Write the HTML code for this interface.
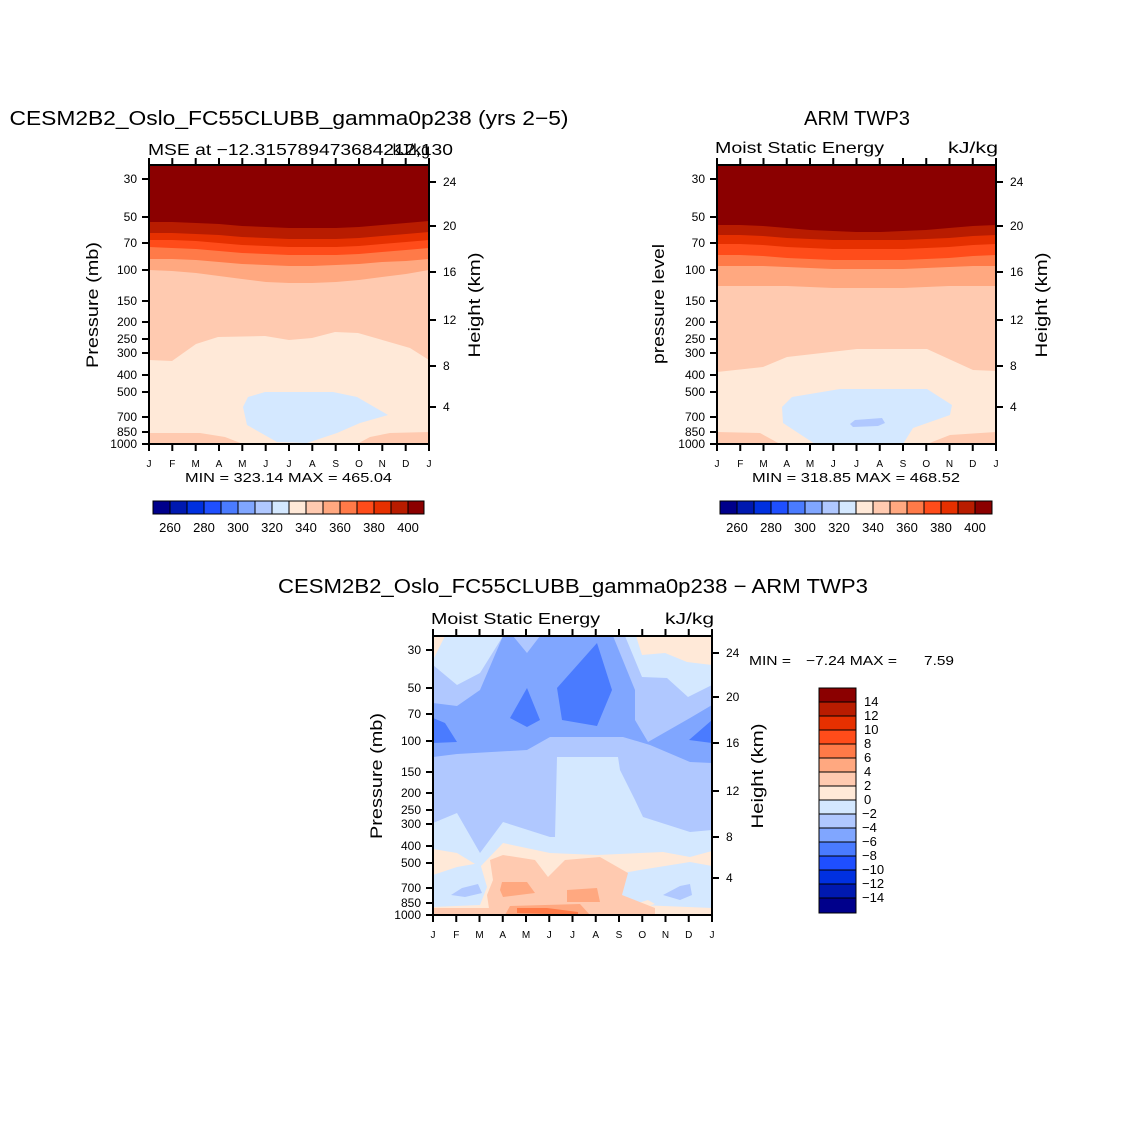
<!DOCTYPE html>
<html><head><meta charset="utf-8"><style>
html,body{margin:0;padding:0;background:#fff;}
svg{display:block;font-family:"Liberation Sans",sans-serif;}
.t{font-size:12px;}
</style></head><body>
<svg width="1146" height="1146" viewBox="0 0 1146 1146" xmlns="http://www.w3.org/2000/svg">
<rect width="1146" height="1146" fill="#fff"/>
<defs>
<clipPath id="c1"><rect x="149" y="165" width="280" height="279"/></clipPath>
<clipPath id="c2"><rect x="717" y="165" width="279" height="279"/></clipPath>
<clipPath id="c3"><rect x="433" y="636" width="279" height="279"/></clipPath>
</defs>

<g clip-path="url(#c1)">
<rect x="149" y="165" width="280" height="279" fill="#ffe9d8"/>
<path fill="#ffcab0" d="M149,165 L429,165 L429,360 L410,348 L358,333 L335,332 L312,338 L289,340 L265,336 L218,337 L196,344 L172,361 L149,360Z"/>
<path fill="#ffa880" d="M149,165 L429,165 L429,270 L406,274 L382,277 L359,280 L336,282 L312,283 L289,283 L266,282 L242,279 L219,276 L196,273 L172,271 L149,270Z"/>
<path fill="#ff7a48" d="M149,165 L429,165 L429,259 L406,261 L382,262 L359,264 L336,265 L312,266 L289,266 L266,265 L242,264 L219,262 L196,260 L172,259 L149,259Z"/>
<path fill="#ff4c1a" d="M149,165 L429,165 L429,248 L406,250 L382,252 L359,254 L336,255 L312,255 L289,255 L266,254 L242,253 L219,251 L196,249 L172,248 L149,247Z"/>
<path fill="#e63000" d="M149,165 L429,165 L429,240 L406,242 L382,244 L359,246 L336,247 L312,247 L289,247 L266,246 L242,245 L219,243 L196,241 L172,240 L149,240Z"/>
<path fill="#b81c00" d="M149,165 L429,165 L429,232 L406,234 L382,236 L359,238 L336,239 L312,239 L289,239 L266,238 L242,237 L219,235 L196,234 L172,233 L149,233Z"/>
<path fill="#8b0000" d="M149,165 L429,165 L429,221 L406,223 L382,225 L359,227 L336,228 L312,228 L289,228 L266,227 L242,226 L219,224 L196,223 L172,222 L149,222Z"/>
<path fill="#d4e8ff" d="M243,407 L248,397 L265,392 L333,392 L357,397 L388,415 L360,423 L337,433 L307,443 L277,442 L247,425Z"/>
<path fill="#ffcab0" d="M149,433 L200,433 L225,437 L243,444 L149,446Z"/>
<path fill="#ffcab0" d="M357,444 L370,437 L390,433 L429,432 L429,446Z"/>
</g>

<g clip-path="url(#c2)">
<rect x="717" y="165" width="279" height="279" fill="#ffe9d8"/>
<path fill="#ffcab0" d="M717,165 L996,165 L996,371 L973,370 L927,349 L857,349 L787,357 L763,367 L717,372Z"/>
<path fill="#ffa880" d="M717,165 L996,165 L996,286 L973,286 L949,286 L926,287 L903,288 L880,288 L856,288 L833,288 L810,287 L787,286 L763,286 L740,286 L717,286Z"/>
<path fill="#ff7a48" d="M717,165 L996,165 L996,266 L973,266 L949,267 L926,268 L903,269 L880,269 L856,269 L833,269 L810,268 L787,267 L763,266 L740,266 L717,266Z"/>
<path fill="#ff4c1a" d="M717,165 L996,165 L996,255 L973,256 L949,258 L926,259 L903,260 L880,260 L856,260 L833,260 L810,259 L787,258 L763,256 L740,255 L717,255Z"/>
<path fill="#e63000" d="M717,165 L996,165 L996,244 L973,245 L949,247 L926,248 L903,249 L880,249 L856,249 L833,249 L810,248 L787,247 L763,245 L740,244 L717,244Z"/>
<path fill="#b81c00" d="M717,165 L996,165 L996,235 L973,236 L949,238 L926,239 L903,240 L880,240 L856,240 L833,240 L810,239 L787,238 L763,236 L740,235 L717,235Z"/>
<path fill="#8b0000" d="M717,165 L996,165 L996,225 L973,226 L949,228 L926,230 L903,231 L880,232 L856,232 L833,231 L810,230 L787,228 L763,226 L740,225 L717,225Z"/>
<path fill="#d4e8ff" d="M782,407 L792,397 L840,389 L927,389 L952,405 L950,415 L913,428 L903,444 L815,444 L783,423Z"/>
<path fill="#b0c8ff" d="M850,424 L855,420 L882,418 L885,423 L878,426 L853,427Z"/>
<path fill="#ffcab0" d="M717,432 L760,433 L780,444 L717,445Z"/>
<path fill="#ffcab0" d="M927,444 L950,435 L996,432 L996,445Z"/>
</g>

<g clip-path="url(#c3)">
<rect x="433" y="636" width="279" height="279" fill="#d4e8ff"/>
<path fill="#b0c8ff" d="M433,665 L457,685 L480,673 L503,636 L625,636 L642,677 L667,678 L688,697 L712,685 L712,830 L690,832 L643,817 L635,800 L620,770 L618,757 L557,757 L555,837 L550,837 L503,822 L480,853 L457,813 L433,823Z"/>
<path fill="#80a6ff" d="M433,703 L457,706 L480,690 L503,636 L513,636 L527,653 L540,636 L613,636 L635,690 L635,720 L648,742 L690,718 L712,705 L712,763 L690,762 L650,745 L623,737 L550,737 L527,750 L457,754 L433,757Z"/>
<path fill="#4a7bff" d="M433,718 L445,723 L457,742 L433,743Z"/>
<path fill="#4a7bff" d="M527,688 L540,720 L527,727 L510,718Z"/>
<path fill="#4a7bff" d="M557,688 L597,643 L612,690 L597,726 L562,720Z"/>
<path fill="#4a7bff" d="M712,720 L689,740 L712,743Z"/>
<path fill="#ffe9d8" d="M433,636 L445,636 L433,660Z"/>
<path fill="#ffe9d8" d="M636,636 L712,636 L712,665 L687,662 L665,653 L642,655Z"/>
<path fill="#ffe9d8" d="M433,849 L457,853 L480,867 L503,843 L550,853 L597,855 L663,852 L690,857 L712,851 L712,915 L433,915Z"/>
<path fill="#d4e8ff" d="M433,875 L457,867 L480,863 L487,887 L480,905 L433,907Z"/>
<path fill="#b0c8ff" d="M451,895 L462,888 L478,884 L482,893 L465,897Z"/>
<path fill="#d4e8ff" d="M600,877 L640,870 L690,862 L712,866 L712,908 L640,905 L620,900 L600,895Z"/>
<path fill="#b0c8ff" d="M663,895 L680,886 L690,884 L692,895 L680,900Z"/>
<path fill="#ffe9d8" d="M638,903 L648,900 L655,904 L645,907Z"/>
<path fill="#ffcab0" d="M490,860 L503,855 L535,860 L548,877 L565,860 L600,857 L628,873 L622,895 L655,908 L655,915 L490,915 L487,895 L493,880Z"/>
<path fill="#ffcab0" d="M433,908 L490,908 L490,915 L433,915Z"/>
<path fill="#ffa880" d="M502,882 L527,882 L535,893 L503,897 L500,890Z"/>
<path fill="#ffa880" d="M567,890 L597,888 L600,902 L567,902Z"/>
<path fill="#ffa880" d="M510,906 L580,904 L590,915 L505,915Z"/>
<path fill="#ff7a48" d="M517,908 L547,908 L578,912 L578,915 L517,913Z"/>
</g>

<g transform="translate(149,165)" fill="none" stroke="#000" stroke-width="2">
<rect x="0" y="0" width="280" height="279"/>
<path d="M0,14h-7M0,52h-7M0,78h-7M0,105h-7M0,136h-7M0,157h-7M0,174h-7M0,188h-7M0,210h-7M0,227h-7M0,252h-7M0,267h-7M0,279h-7"/>
<path d="M280,17h7M280,61h7M280,107h7M280,155h7M280,201h7M280,242h7"/>
<path d="M0,0v-7M23.3,0v-7M46.7,0v-7M70,0v-7M93.3,0v-7M116.7,0v-7M140,0v-7M163.3,0v-7M186.7,0v-7M210,0v-7M233.3,0v-7M256.7,0v-7M280,0v-7"/>
<path d="M0,279v7M23.3,279v7M46.7,279v7M70,279v7M93.3,279v7M116.7,279v7M140,279v7M163.3,279v7M186.7,279v7M210,279v7M233.3,279v7M256.7,279v7M280,279v7"/>
</g>
<g transform="translate(149,165)" class="t" fill="#000">
<g text-anchor="end"><text x="-12" y="18">30</text><text x="-12" y="56">50</text><text x="-12" y="82">70</text><text x="-12" y="109">100</text><text x="-12" y="140">150</text><text x="-12" y="161">200</text><text x="-12" y="178">250</text><text x="-12" y="192">300</text><text x="-12" y="214">400</text><text x="-12" y="231">500</text><text x="-12" y="256">700</text><text x="-12" y="271">850</text><text x="-12" y="283">1000</text></g>
<g><text x="294" y="21">24</text><text x="294" y="65">20</text><text x="294" y="111">16</text><text x="294" y="159">12</text><text x="294" y="205">8</text><text x="294" y="246">4</text></g>
<g text-anchor="middle" font-size="10"><text x="0" y="302">J</text><text x="23.3" y="302">F</text><text x="46.7" y="302">M</text><text x="70" y="302">A</text><text x="93.3" y="302">M</text><text x="116.7" y="302">J</text><text x="140" y="302">J</text><text x="163.3" y="302">A</text><text x="186.7" y="302">S</text><text x="210" y="302">O</text><text x="233.3" y="302">N</text><text x="256.7" y="302">D</text><text x="280" y="302">J</text></g>
</g>
<text x="289" y="125" text-anchor="middle" font-size="20" textLength="559" lengthAdjust="spacingAndGlyphs">CESM2B2_Oslo_FC55CLUBB_gamma0p238 (yrs 2−5)</text>
<text x="148" y="155" font-size="16" textLength="305" lengthAdjust="spacingAndGlyphs">MSE at −12.315789473684212,130</text>
<text x="430" y="155" font-size="16" text-anchor="end">kJ/kg</text>
<text x="185" y="482" font-size="13" textLength="207" lengthAdjust="spacingAndGlyphs">MIN = 323.14 MAX = 465.04</text>
<text transform="translate(98,305) rotate(-90)" text-anchor="middle" font-size="17" textLength="126" lengthAdjust="spacingAndGlyphs">Pressure (mb)</text>
<text transform="translate(480,305) rotate(-90)" text-anchor="middle" font-size="17" textLength="105" lengthAdjust="spacingAndGlyphs">Height (km)</text>

<g transform="translate(717,165)" fill="none" stroke="#000" stroke-width="2">
<rect x="0" y="0" width="279" height="279"/>
<path d="M0,14h-7M0,52h-7M0,78h-7M0,105h-7M0,136h-7M0,157h-7M0,174h-7M0,188h-7M0,210h-7M0,227h-7M0,252h-7M0,267h-7M0,279h-7"/>
<path d="M279,17h7M279,61h7M279,107h7M279,155h7M279,201h7M279,242h7"/>
<path d="M0,0v-7M23.25,0v-7M46.5,0v-7M69.75,0v-7M93,0v-7M116.25,0v-7M139.5,0v-7M162.75,0v-7M186,0v-7M209.25,0v-7M232.5,0v-7M255.75,0v-7M279,0v-7"/>
<path d="M0,279v7M23.25,279v7M46.5,279v7M69.75,279v7M93,279v7M116.25,279v7M139.5,279v7M162.75,279v7M186,279v7M209.25,279v7M232.5,279v7M255.75,279v7M279,279v7"/>
</g>
<g transform="translate(717,165)" class="t" fill="#000">
<g text-anchor="end"><text x="-12" y="18">30</text><text x="-12" y="56">50</text><text x="-12" y="82">70</text><text x="-12" y="109">100</text><text x="-12" y="140">150</text><text x="-12" y="161">200</text><text x="-12" y="178">250</text><text x="-12" y="192">300</text><text x="-12" y="214">400</text><text x="-12" y="231">500</text><text x="-12" y="256">700</text><text x="-12" y="271">850</text><text x="-12" y="283">1000</text></g>
<g><text x="293" y="21">24</text><text x="293" y="65">20</text><text x="293" y="111">16</text><text x="293" y="159">12</text><text x="293" y="205">8</text><text x="293" y="246">4</text></g>
<g text-anchor="middle" font-size="10"><text x="0" y="302">J</text><text x="23.25" y="302">F</text><text x="46.5" y="302">M</text><text x="69.75" y="302">A</text><text x="93" y="302">M</text><text x="116.25" y="302">J</text><text x="139.5" y="302">J</text><text x="162.75" y="302">A</text><text x="186" y="302">S</text><text x="209.25" y="302">O</text><text x="232.5" y="302">N</text><text x="255.75" y="302">D</text><text x="279" y="302">J</text></g>
</g>
<text x="804" y="125" font-size="20" textLength="106" lengthAdjust="spacingAndGlyphs">ARM TWP3</text>
<text x="715" y="153" font-size="16" textLength="169" lengthAdjust="spacingAndGlyphs">Moist Static Energy</text>
<text x="948" y="153" font-size="16" textLength="50" lengthAdjust="spacingAndGlyphs">kJ/kg</text>
<text x="752" y="482" font-size="13" textLength="208" lengthAdjust="spacingAndGlyphs">MIN = 318.85 MAX = 468.52</text>
<text transform="translate(664,304) rotate(-90)" text-anchor="middle" font-size="17" textLength="120" lengthAdjust="spacingAndGlyphs">pressure level</text>
<text transform="translate(1047,305) rotate(-90)" text-anchor="middle" font-size="17" textLength="105" lengthAdjust="spacingAndGlyphs">Height (km)</text>

<g transform="translate(433,636)" fill="none" stroke="#000" stroke-width="2">
<rect x="0" y="0" width="279" height="279"/>
<path d="M0,14h-7M0,52h-7M0,78h-7M0,105h-7M0,136h-7M0,157h-7M0,174h-7M0,188h-7M0,210h-7M0,227h-7M0,252h-7M0,267h-7M0,279h-7"/>
<path d="M279,17h7M279,61h7M279,107h7M279,155h7M279,201h7M279,242h7"/>
<path d="M0,0v-7M23.25,0v-7M46.5,0v-7M69.75,0v-7M93,0v-7M116.25,0v-7M139.5,0v-7M162.75,0v-7M186,0v-7M209.25,0v-7M232.5,0v-7M255.75,0v-7M279,0v-7"/>
<path d="M0,279v7M23.25,279v7M46.5,279v7M69.75,279v7M93,279v7M116.25,279v7M139.5,279v7M162.75,279v7M186,279v7M209.25,279v7M232.5,279v7M255.75,279v7M279,279v7"/>
</g>
<g transform="translate(433,636)" class="t" fill="#000">
<g text-anchor="end"><text x="-12" y="18">30</text><text x="-12" y="56">50</text><text x="-12" y="82">70</text><text x="-12" y="109">100</text><text x="-12" y="140">150</text><text x="-12" y="161">200</text><text x="-12" y="178">250</text><text x="-12" y="192">300</text><text x="-12" y="214">400</text><text x="-12" y="231">500</text><text x="-12" y="256">700</text><text x="-12" y="271">850</text><text x="-12" y="283">1000</text></g>
<g><text x="293" y="21">24</text><text x="293" y="65">20</text><text x="293" y="111">16</text><text x="293" y="159">12</text><text x="293" y="205">8</text><text x="293" y="246">4</text></g>
<g text-anchor="middle" font-size="10"><text x="0" y="302">J</text><text x="23.25" y="302">F</text><text x="46.5" y="302">M</text><text x="69.75" y="302">A</text><text x="93" y="302">M</text><text x="116.25" y="302">J</text><text x="139.5" y="302">J</text><text x="162.75" y="302">A</text><text x="186" y="302">S</text><text x="209.25" y="302">O</text><text x="232.5" y="302">N</text><text x="255.75" y="302">D</text><text x="279" y="302">J</text></g>
</g>
<text x="278" y="593" font-size="20" textLength="590" lengthAdjust="spacingAndGlyphs">CESM2B2_Oslo_FC55CLUBB_gamma0p238 − ARM TWP3</text>
<text x="431" y="624" font-size="16" textLength="169" lengthAdjust="spacingAndGlyphs">Moist Static Energy</text>
<text x="665" y="624" font-size="16" textLength="49" lengthAdjust="spacingAndGlyphs">kJ/kg</text>
<g font-size="13">
<text x="749" y="665" textLength="42" lengthAdjust="spacingAndGlyphs">MIN =</text>
<text x="806" y="665" textLength="91" lengthAdjust="spacingAndGlyphs">−7.24 MAX =</text>
<text x="924" y="665" textLength="30" lengthAdjust="spacingAndGlyphs">7.59</text>
</g>
<text transform="translate(382,776) rotate(-90)" text-anchor="middle" font-size="17" textLength="126" lengthAdjust="spacingAndGlyphs">Pressure (mb)</text>
<text transform="translate(763,776) rotate(-90)" text-anchor="middle" font-size="17" textLength="105" lengthAdjust="spacingAndGlyphs">Height (km)</text>

<g stroke="#000" stroke-width="1">
<g transform="translate(153,501)">
<rect x="0" width="17" height="13" fill="#00008b"/><rect x="17" width="17" height="13" fill="#0019b0"/><rect x="34" width="17" height="13" fill="#0030e0"/><rect x="51" width="17" height="13" fill="#1f4fff"/><rect x="68" width="17" height="13" fill="#4a7bff"/><rect x="85" width="17" height="13" fill="#80a6ff"/><rect x="102" width="17" height="13" fill="#b0c8ff"/><rect x="119" width="17" height="13" fill="#d4e8ff"/><rect x="136" width="17" height="13" fill="#ffe9d8"/><rect x="153" width="17" height="13" fill="#ffcab0"/><rect x="170" width="17" height="13" fill="#ffa880"/><rect x="187" width="17" height="13" fill="#ff7a48"/><rect x="204" width="17" height="13" fill="#ff4c1a"/><rect x="221" width="17" height="13" fill="#e63000"/><rect x="238" width="17" height="13" fill="#b81c00"/><rect x="255" width="16" height="13" fill="#8b0000"/>
</g>
<g transform="translate(720,501)">
<rect x="0" width="17" height="13" fill="#00008b"/><rect x="17" width="17" height="13" fill="#0019b0"/><rect x="34" width="17" height="13" fill="#0030e0"/><rect x="51" width="17" height="13" fill="#1f4fff"/><rect x="68" width="17" height="13" fill="#4a7bff"/><rect x="85" width="17" height="13" fill="#80a6ff"/><rect x="102" width="17" height="13" fill="#b0c8ff"/><rect x="119" width="17" height="13" fill="#d4e8ff"/><rect x="136" width="17" height="13" fill="#ffe9d8"/><rect x="153" width="17" height="13" fill="#ffcab0"/><rect x="170" width="17" height="13" fill="#ffa880"/><rect x="187" width="17" height="13" fill="#ff7a48"/><rect x="204" width="17" height="13" fill="#ff4c1a"/><rect x="221" width="17" height="13" fill="#e63000"/><rect x="238" width="17" height="13" fill="#b81c00"/><rect x="255" width="17" height="13" fill="#8b0000"/>
</g>
<g transform="translate(819,688)">
<rect y="0" width="37" height="14" fill="#8b0000"/><rect y="14" width="37" height="14" fill="#b81c00"/><rect y="28" width="37" height="14" fill="#e63000"/><rect y="42" width="37" height="14" fill="#ff4c1a"/><rect y="56" width="37" height="14" fill="#ff7a48"/><rect y="70" width="37" height="14" fill="#ffa880"/><rect y="84" width="37" height="14" fill="#ffcab0"/><rect y="98" width="37" height="14" fill="#ffe9d8"/><rect y="112" width="37" height="14" fill="#d4e8ff"/><rect y="126" width="37" height="14" fill="#b0c8ff"/><rect y="140" width="37" height="14" fill="#80a6ff"/><rect y="154" width="37" height="14" fill="#4a7bff"/><rect y="168" width="37" height="14" fill="#1f4fff"/><rect y="182" width="37" height="14" fill="#0030e0"/><rect y="196" width="37" height="14" fill="#0019b0"/><rect y="210" width="37" height="15" fill="#00008b"/>
</g>
</g>
<g font-size="13" text-anchor="middle">
<text x="170" y="532">260</text><text x="204" y="532">280</text><text x="238" y="532">300</text><text x="272" y="532">320</text><text x="306" y="532">340</text><text x="340" y="532">360</text><text x="374" y="532">380</text><text x="408" y="532">400</text>
<text x="737" y="532">260</text><text x="771" y="532">280</text><text x="805" y="532">300</text><text x="839" y="532">320</text><text x="873" y="532">340</text><text x="907" y="532">360</text><text x="941" y="532">380</text><text x="975" y="532">400</text>
</g>
<g font-size="13">
<text x="864" y="706">14</text><text x="864" y="720">12</text><text x="864" y="734">10</text><text x="864" y="748">8</text><text x="864" y="762">6</text><text x="864" y="776">4</text><text x="864" y="790">2</text><text x="864" y="804">0</text><text x="862" y="818">−2</text><text x="862" y="832">−4</text><text x="862" y="846">−6</text><text x="862" y="860">−8</text><text x="862" y="874">−10</text><text x="862" y="888">−12</text><text x="862" y="902">−14</text>
</g>
</svg>
</body></html>
